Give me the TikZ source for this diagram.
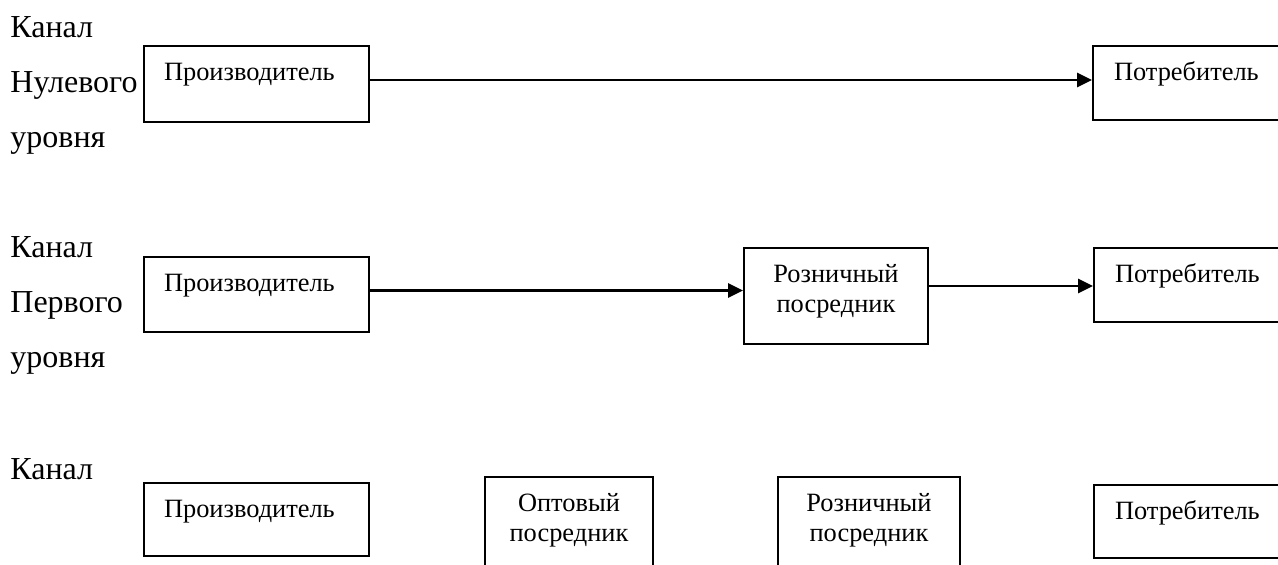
\documentclass[tikz,border=0pt]{standalone}
\usepackage{fontspec}
\setmainfont{Liberation Serif}
\usetikzlibrary{arrows.meta, positioning}
\tikzstyle{arrow} = [line width=1.3pt, -{Triangle[length=7.5pt, width=7pt]}]
\tikzstyle{box} = [draw, rectangle, line width=1pt, anchor=north west, inner xsep=10pt, inner ysep=0pt, text height=17.5pt, font=\fontsize{13.2}{15}\selectfont]
\tikzstyle{channel} = [anchor=base west, align=left, inner sep=0pt, font=\fontsize{16}{27.5}\selectfont]

\begin{document}
\begin{tikzpicture}[x=0.5pt, y=-0.5pt]
\clip (0,0) rectangle (1278,565);
% channel labels (placed by the last line)
\node (lab0) [channel] at (10,148) {Канал\\Нулевого\\уровня};
\node (lab1) [channel] at (10,368) {Канал\\Первого\\уровня};
\node (lab2) [channel] at (10,480) {Канал};

% zero level
\node (prod0) [box, text width=92.5pt, align=left, text depth=20.5pt] at (143,45) {Производитель};
\node (cons0) [box, text width=120pt, align=left, text depth=19.5pt, inner xsep=10.5pt] at (1092,45) {Потребитель};

% first level
\node (prod1) [box, text width=92.5pt, align=left, text depth=20pt] at (143,256) {Производитель};
\node (retail1) [box, text width=82pt, align=center, text depth=30.5pt, inner xsep=5pt] at (743,247) {Розничный\\посредник};
\node (cons1) [box, text width=120pt, align=left, text depth=19.5pt, inner xsep=10.5pt] at (1093,247) {Потребитель};

% second level
\node (prod2) [box, text width=92.5pt, align=left, text depth=19pt] at (143,482) {Производитель};
\node (whole2) [box, text width=74pt, align=center, text depth=40pt, inner xsep=5pt] at (484,476) {Оптовый\\посредник};
\node (retail2) [box, text width=81pt, align=center, text depth=40pt, inner xsep=5pt] at (777,476) {Розничный\\посредник};
\node (cons2) [box, text width=120pt, align=left, text depth=19pt, inner xsep=10.5pt] at (1093,484) {Потребитель};

\draw [arrow] ([yshift=2pt]prod0.east) -- ([yshift=2pt]prod0.east -| cons0.west);
\draw [arrow] ([yshift=2pt]prod1.east) -- ([yshift=2pt]prod1.east -| retail1.west);
\draw [arrow] ([yshift=5pt]retail1.east) -- ([yshift=5pt]retail1.east -| cons1.west);
\end{tikzpicture}
\end{document}
